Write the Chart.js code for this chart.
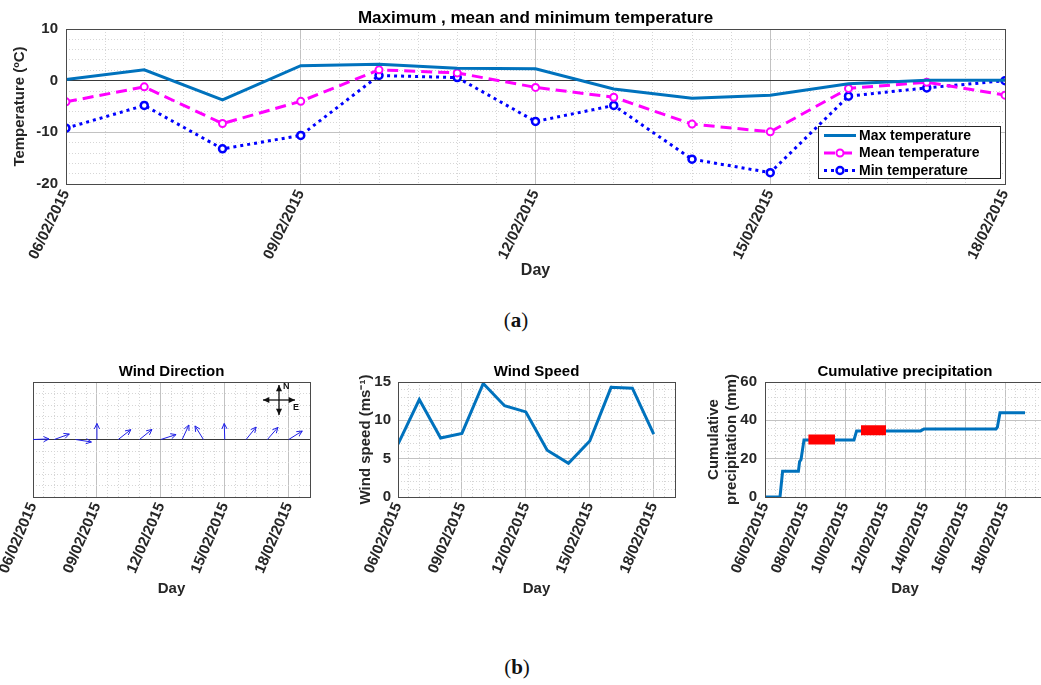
<!DOCTYPE html>
<html>
<head>
<meta charset="utf-8">
<title>Temperature, wind and precipitation</title>
<script src="https://cdn.jsdelivr.net/npm/chart.js@4.4.1/dist/chart.umd.min.js"></script>
<style>
  html, body { margin: 0; padding: 0; background: #fff; }
  body { position: relative; width: 1041px; height: 685px; overflow: hidden; }
  canvas { position: absolute; }
  .cap { position: absolute; width: 60px; text-align: center; font-family: "Liberation Serif", "DejaVu Serif", serif; font-size: 21px; color: #111; }
</style>
</head>
<body>
<canvas id="temp" width="1041" height="300" style="left:0;top:0"></canvas>
<div class="cap" style="left:486px;top:308px">(<b>a</b>)</div>
<canvas id="dir" width="340" height="270" style="left:0;top:340px"></canvas>
<canvas id="speed" width="340" height="270" style="left:340px;top:340px"></canvas>
<canvas id="precip" width="380" height="270" style="left:680px;top:340px"></canvas>
<div class="cap" style="left:487px;top:655px">(<b>b</b>)</div>
<script>
// days of February 2015
const days = [6, 7, 8, 9, 10, 11, 12, 13, 14, 15, 16, 17, 18];
const maxTemp = [0.2, 2.1, -3.7, 2.9, 3.2, 2.4, 2.3, -1.6, -3.4, -2.8, -0.6, 0.1, 0.1];
const meanTemp = [-4.1, -1.2, -8.3, -4.0, 2.1, 1.5, -1.3, -3.2, -8.4, -9.9, -1.5, -0.3, -2.8];
const minTemp = [-9.2, -4.8, -13.2, -10.6, 1.0, 0.6, -7.9, -4.8, -15.2, -17.8, -3.0, -1.4, 0.0];

// wind: direction the arrow points (deg clockwise from north), speed in m/s
const windDir = [88, 70, 99, 0, 52, 51, 72, 25, 328, 358, 39, 41, 58];
const windSpeed = [6.9, 12.7, 7.7, 8.3, 14.8, 11.9, 11.1, 6.1, 4.4, 7.3, 14.3, 14.2, 8.2];

// cumulative precipitation (fractional day, mm)
const precipDays = [6.0, 6.75, 6.88, 7.67, 7.73, 7.8, 7.95, 10.45, 10.58, 13.78, 13.95, 17.55, 17.62, 17.75, 19.0];
const precipMm = [0, 0, 13.4, 13.4, 18.5, 19.5, 29.8, 29.8, 34.5, 34.5, 35.5, 35.5, 36.5, 44.0, 44.0];
// red bars drawn on the precipitation panel
const barStart = [8.17, 10.8];
const barEnd = [9.5, 12.05];
const barLevel = [30, 34.8];

const tickDays = [6, 9, 12, 15, 18];
const tickLabels = ['06/02/2015', '09/02/2015', '12/02/2015', '15/02/2015', '18/02/2015'];
const precipTickDays = [6, 8, 10, 12, 14, 16, 18];
const precipTickLabels = ['06/02/2015', '08/02/2015', '10/02/2015', '12/02/2015', '14/02/2015', '16/02/2015', '18/02/2015'];
const tempTicks = [-20, -10, 0, 10];
const speedTicks = [0, 5, 10, 15];
const precipTicks = [0, 20, 40, 60];

const FONT = '"Liberation Sans", Arial, Helvetica, sans-serif';
const INK = '#262626';
const MINOR = '#d6d6d6';
const MAJOR = '#c2c2c2';

function steps(min, max, step) {
  const out = [];
  for (let v = min; v <= max + 1e-9; v += step) out.push(Math.round(v * 1000) / 1000);
  return out;
}

function bold(size) {
  return { family: FONT, size: size, weight: 'bold' };
}

function dayAxis(o) {
  const vals = steps(o.min, o.max, 0.5);
  return {
    type: 'linear',
    min: o.min,
    max: o.max,
    afterBuildTicks: s => { s.ticks = vals.map(v => ({ value: v })); },
    afterFit: s => {
      s.height = o.height;
      // keep the plot box where it is, labels may run past it
      s.paddingLeft = 0;
      s.paddingRight = 0;
    },
    ticks: {
      autoSkip: false,
      minRotation: o.rot,
      maxRotation: o.rot,
      padding: 3,
      color: INK,
      font: bold(o.size),
      callback: v => {
        const i = o.at.indexOf(v);
        return i < 0 ? '' : o.labels[i];
      }
    },
    grid: {
      drawTicks: false,
      color: c => (c.tick && o.at.includes(c.tick.value) ? MAJOR : MINOR)
    },
    border: {
      display: false,
      dash: c => (c.tick && o.at.includes(c.tick.value) ? [] : [1, 2])
    },
    title: {
      display: true,
      text: 'Day',
      color: INK,
      font: bold(o.titleSize),
      padding: { top: 0, bottom: o.titlePad }
    }
  };
}

function valueAxis(o) {
  const vals = steps(o.min, o.max, o.minor);
  const isMajor = v => o.labels.includes(v);
  return {
    type: 'linear',
    min: o.min,
    max: o.max,
    afterBuildTicks: s => { s.ticks = vals.map(v => ({ value: v })); },
    afterFit: s => {
      s.width = o.width;
      s.paddingTop = 0;
      s.paddingBottom = 0;
    },
    ticks: {
      autoSkip: false,
      padding: o.pad,
      color: INK,
      font: bold(o.size),
      callback: v => (isMajor(v) ? String(v) : '')
    },
    grid: {
      drawTicks: false,
      color: c => {
        if (!c.tick) return MINOR;
        if (o.zero && c.tick.value === 0) return '#3a3a3a';
        return isMajor(c.tick.value) ? MAJOR : MINOR;
      }
    },
    border: {
      display: false,
      dash: c => {
        if (!c.tick) return [];
        if (o.zero && c.tick.value === 0) return [];
        return isMajor(c.tick.value) ? [] : [1, 2];
      }
    },
    title: o.title
      ? { display: true, text: o.title, color: INK, font: bold(o.titleSize), padding: { top: o.titlePad, bottom: 0 } }
      : { display: false }
  };
}

// box round the axes + title above it
function frame(title, titleSize, extra) {
  return {
    id: 'frame',
    afterDraw(chart) {
      const { ctx, chartArea: a } = chart;
      ctx.save();
      ctx.strokeStyle = '#4a4a4a';
      ctx.lineWidth = 1;
      ctx.strokeRect(Math.round(a.left) + 0.5, Math.round(a.top) + 0.5,
        Math.round(a.right - a.left), Math.round(a.bottom - a.top));
      ctx.fillStyle = '#000';
      ctx.font = 'bold ' + titleSize + 'px ' + FONT;
      ctx.textAlign = 'center';
      ctx.textBaseline = 'alphabetic';
      ctx.fillText(title, (a.left + a.right) / 2, a.top - 6);
      ctx.restore();
      if (extra) extra(chart);
    }
  };
}

function tempLegend(chart) {
  const { ctx, chartArea: a } = chart;
  const x0 = a.right - 187, y0 = a.bottom - 58, w = 182, h = 52;
  ctx.save();
  ctx.fillStyle = '#fff';
  ctx.fillRect(x0, y0, w, h);
  ctx.strokeStyle = INK;
  ctx.lineWidth = 1;
  ctx.strokeRect(x0 + 0.5, y0 + 0.5, w, h);
  ctx.font = 'bold 14px ' + FONT;
  ctx.textBaseline = 'middle';
  ctx.textAlign = 'left';
  chart.data.datasets.forEach((ds, i) => {
    const y = y0 + 9.5 + i * 17.5;
    ctx.strokeStyle = ds.borderColor;
    ctx.lineWidth = ds.borderWidth;
    ctx.setLineDash(ds.borderDash || []);
    ctx.beginPath();
    ctx.moveTo(x0 + 6, y);
    ctx.lineTo(x0 + 38, y);
    ctx.stroke();
    ctx.setLineDash([]);
    if (ds.pointRadius) {
      ctx.beginPath();
      ctx.arc(x0 + 22, y, ds.pointRadius, 0, Math.PI * 2);
      ctx.fillStyle = ds.pointBackgroundColor;
      ctx.fill();
      ctx.lineWidth = ds.pointBorderWidth;
      ctx.strokeStyle = ds.pointBorderColor;
      ctx.stroke();
    }
    ctx.fillStyle = '#000';
    ctx.fillText(ds.label, x0 + 41, y + 0.5);
  });
  ctx.restore();
}

function arrow(ctx, x0, y0, x1, y1, head, filled) {
  const ang = Math.atan2(y1 - y0, x1 - x0);
  ctx.beginPath();
  ctx.moveTo(x0, y0);
  ctx.lineTo(x1, y1);
  ctx.stroke();
  const hx1 = x1 - head * Math.cos(ang - 0.45), hy1 = y1 - head * Math.sin(ang - 0.45);
  const hx2 = x1 - head * Math.cos(ang + 0.45), hy2 = y1 - head * Math.sin(ang + 0.45);
  ctx.beginPath();
  if (filled) {
    ctx.moveTo(x1, y1);
    ctx.lineTo(hx1, hy1);
    ctx.lineTo(hx2, hy2);
    ctx.closePath();
    ctx.fill();
  } else {
    ctx.moveTo(hx1, hy1);
    ctx.lineTo(x1, y1);
    ctx.lineTo(hx2, hy2);
    ctx.stroke();
  }
}

// quiver arrows + compass rose
function windArrows(chart) {
  const { ctx, chartArea: a, scales: { x, y } } = chart;
  const len = 16;
  ctx.save();
  ctx.strokeStyle = '#1f1fe6';
  ctx.lineWidth = 1;
  days.forEach((d, i) => {
    const px = x.getPixelForValue(d);
    const py = y.getPixelForValue(0);
    const th = windDir[i] * Math.PI / 180;
    arrow(ctx, px, py, px + len * Math.sin(th), py - len * Math.cos(th), 6, false);
  });
  const cx = a.right - 31, cy = a.top + 18;
  ctx.strokeStyle = '#111';
  ctx.fillStyle = '#111';
  ctx.lineWidth = 1.3;
  arrow(ctx, cx, cy, cx, cy - 15, 7, true);
  arrow(ctx, cx, cy, cx, cy + 15, 7, true);
  arrow(ctx, cx, cy, cx + 16, cy, 7, true);
  arrow(ctx, cx, cy, cx - 16, cy, 7, true);
  ctx.font = 'bold 9px ' + FONT;
  ctx.textAlign = 'left';
  ctx.textBaseline = 'middle';
  ctx.fillText('N', cx + 4, cy - 13);
  ctx.fillText('E', cx + 14, cy + 8);
  ctx.restore();
}

const pts = arr => days.map((d, i) => ({ x: d, y: arr[i] }));
const baseOptions = pad => ({
  responsive: false,
  animation: false,
  layout: { padding: pad },
  plugins: { legend: { display: false }, tooltip: { enabled: false } }
});

// (a) temperatures
new Chart(document.getElementById('temp'), {
  type: 'line',
  data: {
    datasets: [
      { label: 'Max temperature', data: pts(maxTemp), borderColor: '#0072BD', borderWidth: 3,
        pointRadius: 0, tension: 0 },
      { label: 'Mean temperature', data: pts(meanTemp), borderColor: '#FF00FF', borderWidth: 3,
        borderDash: [11, 6], pointRadius: 3.5, pointBorderWidth: 2, pointBackgroundColor: '#fff',
        pointBorderColor: '#FF00FF', tension: 0 },
      { label: 'Min temperature', data: pts(minTemp), borderColor: '#0000FF', borderWidth: 3,
        borderDash: [3, 4], pointRadius: 3.5, pointBorderWidth: 2.5, pointBackgroundColor: '#fff',
        pointBorderColor: '#0000FF', tension: 0 }
    ]
  },
  options: Object.assign(baseOptions({ top: 29, right: 36, left: 0, bottom: 0 }), {
    scales: {
      x: dayAxis({ min: 6, max: 18, at: tickDays, labels: tickLabels, height: 116, rot: 64,
        size: 15, titleSize: 16, titlePad: 20 }),
      y: valueAxis({ min: -20, max: 10, minor: 2, labels: tempTicks, width: 66, pad: 8, size: 15,
        zero: true, title: 'Temperature (ºC)', titleSize: 15, titlePad: 11 })
    }
  }),
  plugins: [frame('Maximum , mean and minimum temperature', 17, tempLegend)]
});

// (b) wind direction
new Chart(document.getElementById('dir'), {
  type: 'line',
  data: {
    datasets: [
      { data: days.map(d => ({ x: d, y: 0 })), showLine: false, pointRadius: 0 }
    ]
  },
  options: Object.assign(baseOptions({ top: 42, right: 30, left: 0, bottom: 0 }), {
    scales: {
      x: dayAxis({ min: 6, max: 19, at: tickDays, labels: tickLabels, height: 113, rot: 67,
        size: 15, titleSize: 15, titlePad: 12 }),
      y: valueAxis({ min: -1, max: 1, minor: 0.2, labels: [], width: 33, pad: 4, size: 14, zero: true })
    }
  }),
  plugins: [frame('Wind Direction', 15, windArrows)]
});

// (b) wind speed
new Chart(document.getElementById('speed'), {
  type: 'line',
  data: {
    datasets: [
      { data: pts(windSpeed), borderColor: '#0072BD', borderWidth: 3, pointRadius: 0, tension: 0 }
    ]
  },
  options: Object.assign(baseOptions({ top: 42, right: 5, left: 0, bottom: 0 }), {
    scales: {
      x: dayAxis({ min: 6, max: 19, at: tickDays, labels: tickLabels, height: 113, rot: 67,
        size: 15, titleSize: 15, titlePad: 12 }),
      y: valueAxis({ min: 0, max: 15, minor: 1, labels: speedTicks, width: 58, pad: 7, size: 15,
        title: 'Wind speed (ms⁻¹)', titleSize: 15, titlePad: 17 })
    }
  }),
  plugins: [frame('Wind Speed', 15)]
});

// (b) cumulative precipitation
const barData = [];
barStart.forEach((s, i) => {
  if (i) barData.push({ x: (barEnd[i - 1] + s) / 2, y: null });
  barData.push({ x: s, y: barLevel[i] }, { x: barEnd[i], y: barLevel[i] });
});
new Chart(document.getElementById('precip'), {
  type: 'line',
  data: {
    datasets: [
      { data: barData, borderColor: '#FF0000', borderWidth: 10, borderCapStyle: 'butt',
        pointRadius: 0, spanGaps: false, tension: 0 },
      { data: precipDays.map((d, i) => ({ x: d, y: precipMm[i] })), borderColor: '#0072BD',
        borderWidth: 3, pointRadius: 0, tension: 0 }
    ]
  },
  options: Object.assign(baseOptions({ top: 42, right: 15, left: 0, bottom: 0 }), {
    scales: {
      x: dayAxis({ min: 6, max: 20, at: precipTickDays, labels: precipTickLabels, height: 113, rot: 67,
        size: 15, titleSize: 15, titlePad: 12 }),
      y: valueAxis({ min: 0, max: 60, minor: 4, labels: precipTicks, width: 85, pad: 8, size: 15,
        title: ['Cumulative', 'precipitation (mm)'], titleSize: 15, titlePad: 25 })
    }
  }),
  plugins: [frame('Cumulative precipitation', 15)]
});
</script>
</body>
</html>
